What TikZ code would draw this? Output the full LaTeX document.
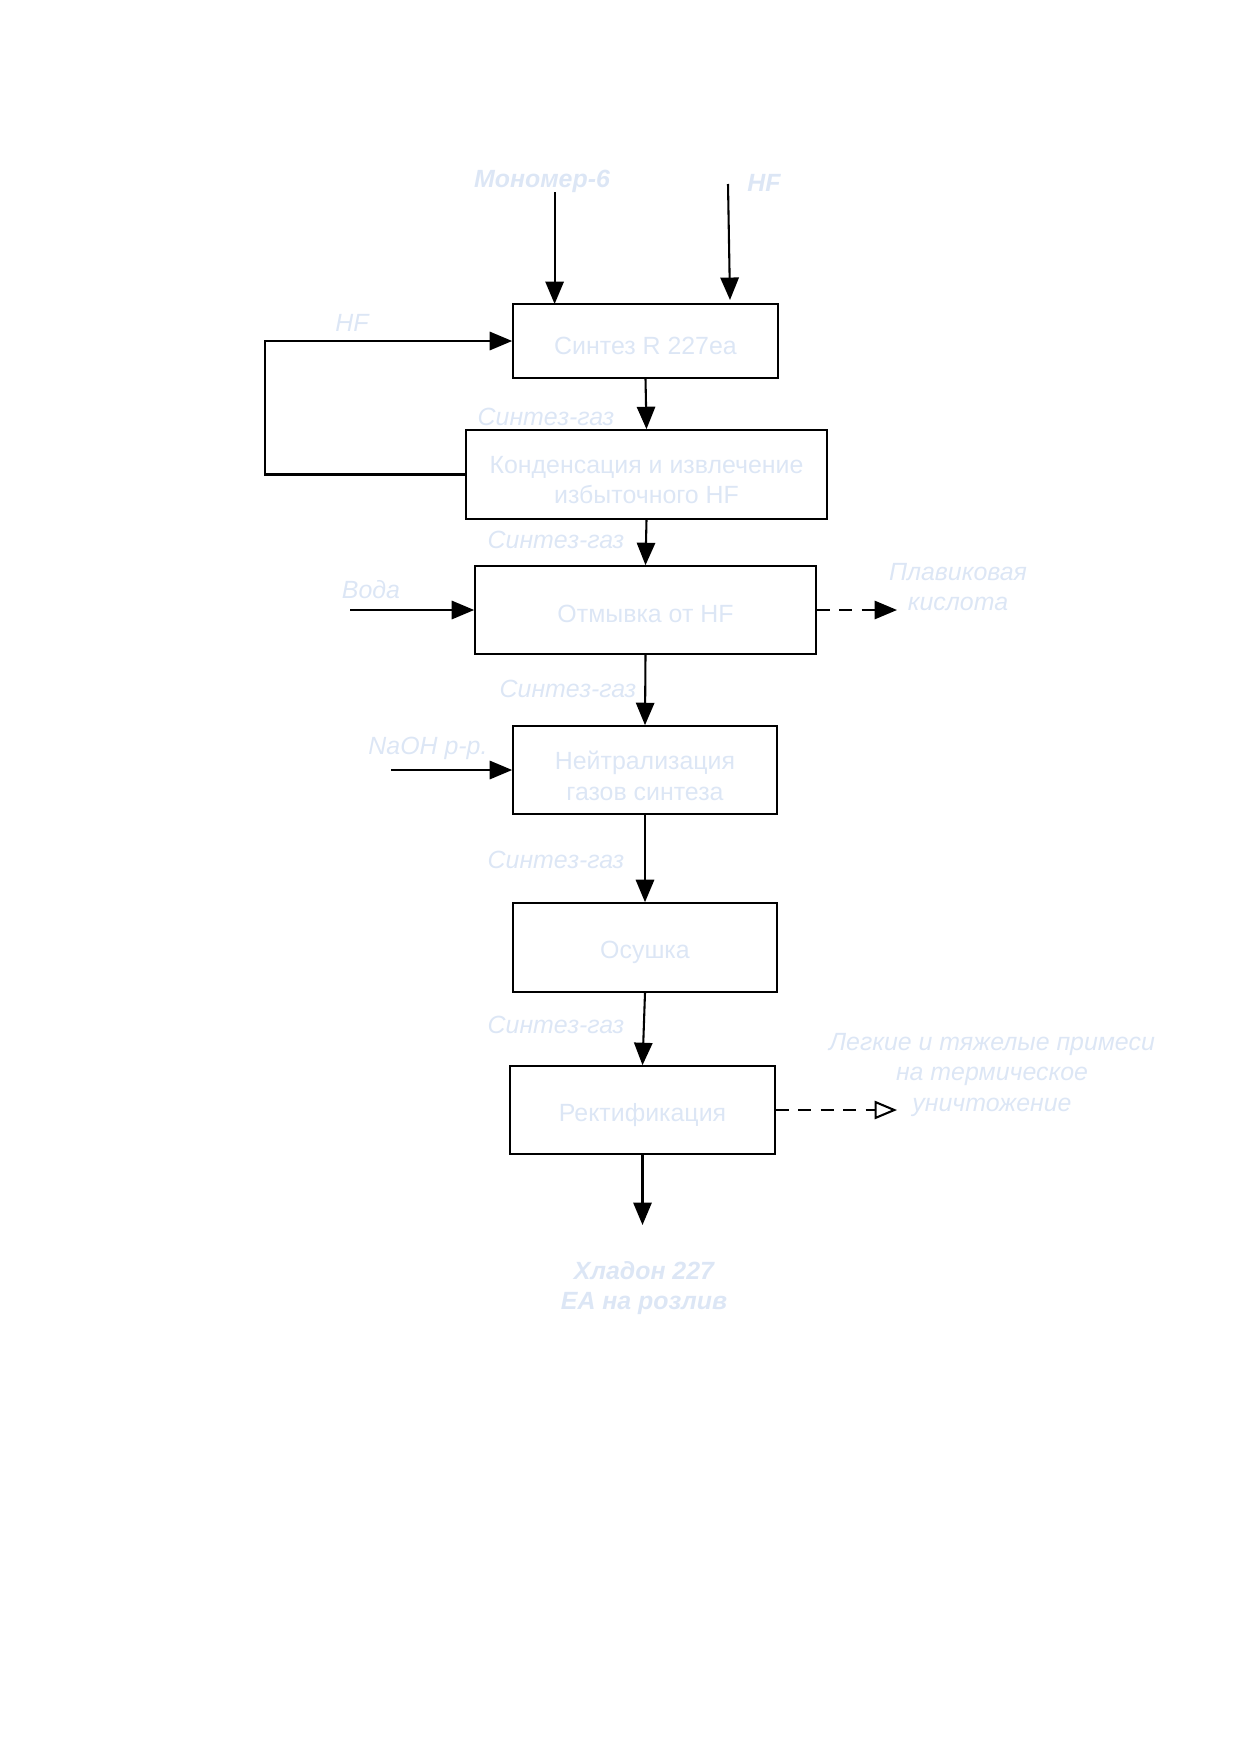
\documentclass[tikz,border=0pt]{standalone}
\usepackage{fontspec}
\setmainfont{Liberation Sans}
\usetikzlibrary{arrows.meta}
\definecolor{txt}{RGB}{220,230,245}
\tikzset{
  procbox/.style={draw=black, line width=0.8pt, rectangle, inner sep=0pt},
  boxtext/.style={text=txt, font=\fontsize{12}{14.5}\selectfont, align=center, inner sep=0pt},
  lbl/.style={text=txt, font=\fontsize{12}{14.5}\selectfont\itshape, align=center, inner sep=0pt},
  blbl/.style={text=txt, font=\fontsize{12}{14.5}\selectfont\bfseries\itshape, align=center, inner sep=0pt},
  flow/.style={line width=1pt, -{Triangle[length=3.8mm,width=3.1mm]}},
  dflow/.style={line width=1pt, dashed, dash pattern=on 2.2mm off 1.6mm, -{Triangle[length=3.8mm,width=3.1mm]}},
  oflow/.style={line width=1pt, dashed, dash pattern=on 2.2mm off 1.6mm, -{Triangle[open,length=3.8mm,width=3.1mm]}},
}
\begin{document}
\begin{tikzpicture}[x=0.16935mm, y=-0.16935mm]
\useasboundingbox (0,0) rectangle (1240,1754);
% boxes
\node[procbox, minimum width=265*0.16935mm, minimum height=74*0.16935mm] (b1) at (645.5,341) {};
\node[procbox, minimum width=361*0.16935mm, minimum height=89*0.16935mm] (b2) at (646.5,474.5) {};
\node[procbox, minimum width=341*0.16935mm, minimum height=88*0.16935mm] (b3) at (645.5,610) {};
\node[procbox, minimum width=264*0.16935mm, minimum height=88*0.16935mm] (b4) at (645,770) {};
\node[procbox, minimum width=264*0.16935mm, minimum height=89*0.16935mm] (b5) at (645,947.5) {};
\node[procbox, minimum width=265*0.16935mm, minimum height=88*0.16935mm] (b6) at (642.5,1110) {};
% box texts
\node[boxtext] (t1) at ([yshift=-0.8mm]b1.center) {Синтез R 227ea};
\node[boxtext] (t2) at ([yshift=-1.0mm]b2.center) {Конденсация и извлечение\\избыточного HF};
\node[boxtext] (t3) at ([yshift=-0.7mm]b3.center) {Отмывка от HF};
\node[boxtext] (t4) at ([yshift=-1.0mm]b4.center) {Нейтрализация\\газов синтеза};
\node[boxtext] (t5) at ([yshift=-0.9mm]b5.center) {Осушка};
\node[boxtext] (t6) at ([yshift=-0.9mm]b6.center) {Ректификация};
% labels
\node[blbl] (lmon) at (542,181) {Мономер-6};
\node[blbl] (lhf1) at (764,183) {HF};
\node[lbl] (lhf2) at (352,323) {HF};
\node[lbl] (lsg1) at (546,417) {Синтез-газ};
\node[lbl] (lsg2) at (556,540) {Синтез-газ};
\node[lbl] (lwat) at (371,590) {Вода};
\node[lbl] (lacid) at (958,587) {Плавиковая\\кислота};
\node[lbl] (lsg3) at (568,689) {Синтез-газ};
\node[lbl] (lnaoh) at (428,748) {NaOH р-р.};
\node[lbl] (lsg4) at (556,860) {Синтез-газ};
\node[lbl] (lsg5) at (556,1025) {Синтез-газ};
\node[lbl] (limp) at (992,1075) {Легкие и тяжелые примеси\\на термическое\\уничтожение};
\node[blbl] (lprod) at (644,1288) {Хладон 227\\EA на розлив};
% free ends
\coordinate (m0) at (554.6,192);
\coordinate (m1) at (554.6,304);
\coordinate (h0) at (728,184);
\coordinate (h1) at (730,300);
\coordinate (lp1) at (265,474.5);
\coordinate (lp2) at (265,341);
\coordinate (w0) at (350,610);
\coordinate (a1) at (897,610);
\coordinate (n0) at (391,770);
\coordinate (i1) at (897,1110);
\coordinate (p1) at (642.5,1225);
% connectors
\draw[flow] (m0) -- (m1);
\draw[flow] (h0) -- (h1);
\draw[flow] (b2.west) -- (lp1) -- (lp2) -- (b1.west);
\draw[flow] (b1.south) -- (b2.north);
\draw[flow] (b2.south) -- (b3.north);
\draw[flow] (w0) -- (b3.west);
\draw[dflow] (b3.east) -- (a1);
\draw[flow] (b3.south) -- (b4.north);
\draw[flow] (n0) -- (b4.west);
\draw[flow] (b4.south) -- (b5.north);
\draw[flow] (b5.south) -- (b6.north);
\draw[oflow] (b6.east) -- (i1);
\draw[flow] (b6.south) -- (p1);
\end{tikzpicture}
\end{document}
